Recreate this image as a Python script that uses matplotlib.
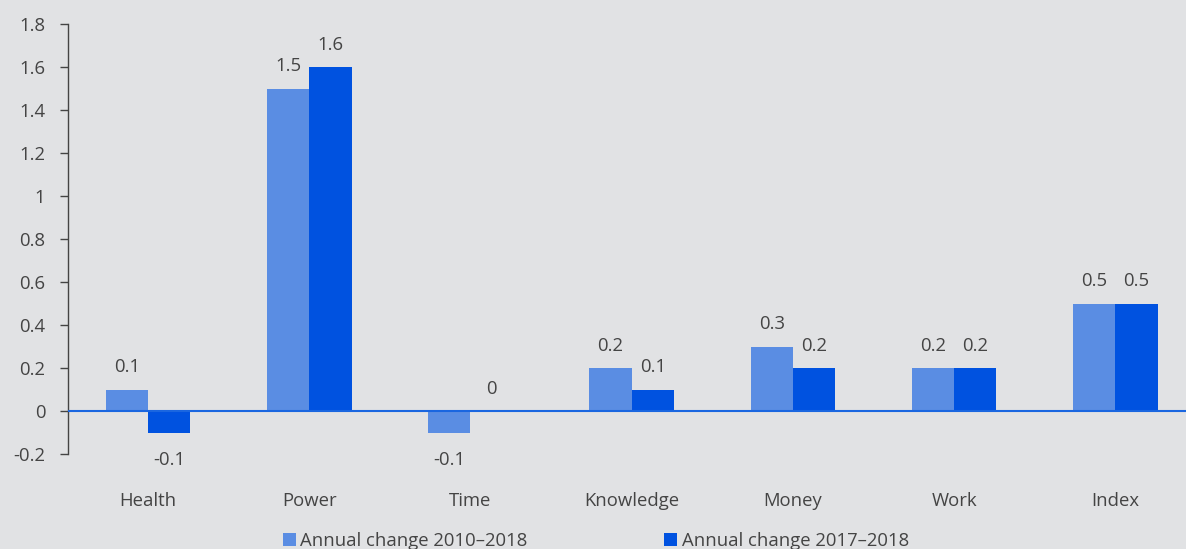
import matplotlib
matplotlib.use("Agg")
import matplotlib.pyplot as plt
import numpy as np

categories = ["Health", "Power", "Time", "Knowledge", "Money", "Work", "Index"]
series_names = ["Annual change 2010\u20132018", "Annual change 2017\u20132018"]
change_2010_2018 = [0.1, 1.5, -0.1, 0.2, 0.3, 0.2, 0.5]
change_2017_2018 = [-0.1, 1.6, 0.0, 0.1, 0.2, 0.2, 0.5]
yticks = [-0.2, 0, 0.2, 0.4, 0.6, 0.8, 1, 1.2, 1.4, 1.6, 1.8]
ytick_labels = ["-0.2", "0", "0.2", "0.4", "0.6", "0.8", "1", "1.2", "1.4", "1.6", "1.8"]

plt.rcParams['font.family'] = ['Open Sans', 'DejaVu Sans']
bg = "#e1e2e4"
c_light = "#5a8de3"
c_dark = "#0052e0"
txt = "#444444"
fs = 13.3

fig = plt.figure(figsize=(11.86, 5.49), dpi=100, facecolor=bg)
xmin, xmax = -0.5, 6.5
ax = fig.add_axes([67.5/1186, 1-454/549, (xmax - xmin)*161.2/1186, (454-24)/549])
ax.set_facecolor(bg)

x = np.arange(len(categories))
w = 0.262
b1 = ax.bar(x - w/2, change_2010_2018, w, color=c_light, label=series_names[0], zorder=2)
b2 = ax.bar(x + w/2, change_2017_2018, w, color=c_dark, label=series_names[1], zorder=2)
ax.axhline(0, color="#1a66e0", lw=1.5, zorder=3)

def fmt(v):
    return "0" if v == 0 else f"{v:g}"

for bars, vals in ((b1, change_2010_2018), (b2, change_2017_2018)):
    for r, v in zip(bars, vals):
        cx = r.get_x() + r.get_width()/2
        off = 16 if v >= 0 else -20
        ax.annotate(fmt(v), (cx, v), xytext=(0, off), textcoords="offset points",
                    ha="center", va="center", fontsize=fs, color=txt)

ax.set_xlim(xmin, xmax)
ax.set_ylim(-0.2, 1.8)
ax.set_yticks(yticks)
ax.set_yticklabels(ytick_labels)
ax.set_xticks(x)
ax.set_xticklabels(categories)
ax.tick_params(axis="x", length=0, pad=27, labelsize=fs, labelcolor=txt)
ax.tick_params(axis="y", length=6, width=1, color="#444444", pad=10, labelsize=fs, labelcolor=txt)
for s in ("top", "right", "bottom"):
    ax.spines[s].set_visible(False)
ax.spines["left"].set_color("#444444")
ax.spines["left"].set_linewidth(1)

fig.legend(handles=[b1, b2], labels=series_names, loc="center", ncol=2,
           bbox_to_anchor=(596/1186, 1-541/549), frameon=False, fontsize=fs,
           handlelength=0.7, handleheight=0.7, handletextpad=0.25,
           columnspacing=7.4, labelcolor=txt)

fig.savefig("out.png", dpi=100, facecolor=bg)
